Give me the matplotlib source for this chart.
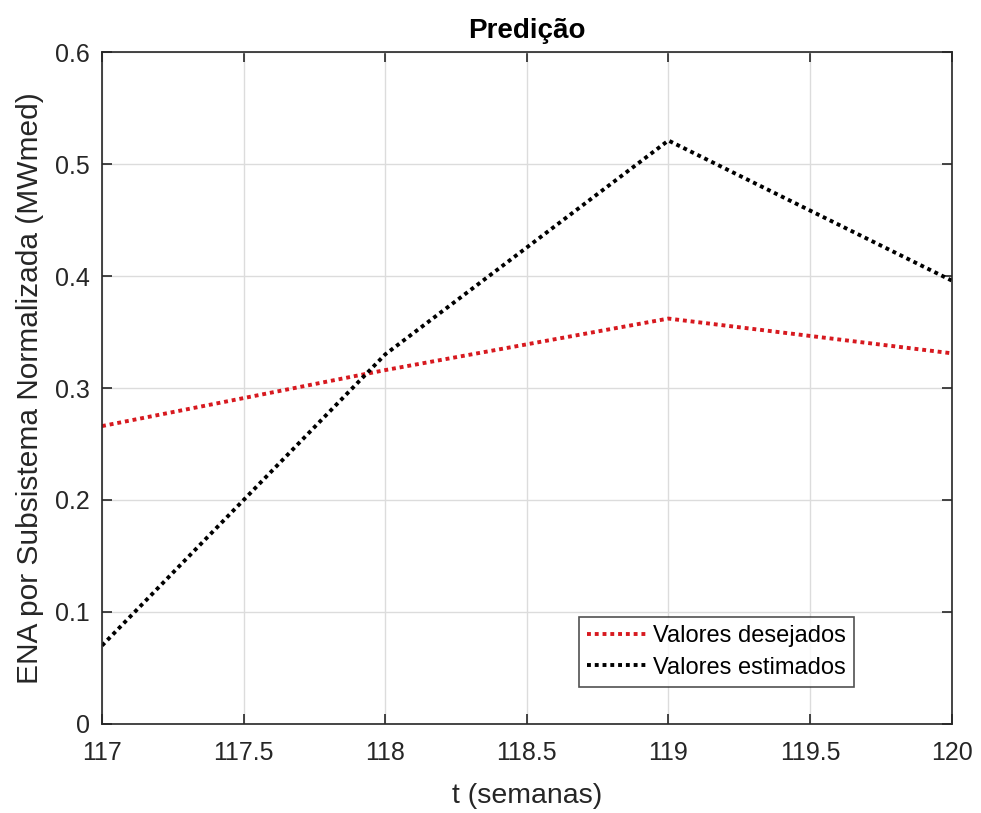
import matplotlib.pyplot as plt

plt.rcParams['font.family'] = ['Liberation Sans', 'DejaVu Sans']

semanas = [117, 118, 119, 120]
desejados = [0.266, 0.316, 0.362, 0.331]
estimados = [0.070, 0.330, 0.521, 0.396]

fig = plt.figure(figsize=(9.81, 8.13), dpi=100)
ax = fig.add_axes([0.104, 0.1095, 0.866, 0.8265])

pontilhado = (0, (1, 1.0))
ax.plot(semanas, desejados, linestyle=pontilhado, color='#d7191f', lw=2.8,
        label='Valores desejados')
ax.plot(semanas, estimados, linestyle=pontilhado, color='black', lw=2.8,
        label='Valores estimados')

ax.set_xlim(117, 120)
ax.set_ylim(0, 0.6)
ax.set_xticks([117, 117.5, 118, 118.5, 119, 119.5, 120])
ax.set_xticklabels(['117', '117.5', '118', '118.5', '119', '119.5', '120'])
ax.set_yticks([0, 0.1, 0.2, 0.3, 0.4, 0.5, 0.6])
ax.set_yticklabels(['0', '0.1', '0.2', '0.3', '0.4', '0.5', '0.6'])
ax.tick_params(direction='in', top=True, right=True, labelsize=18,
               colors='#262626', length=7, width=1.2)
ax.tick_params(axis='x', pad=12)
ax.tick_params(axis='y', pad=9)
ax.grid(True, color='#dcdcdc', lw=1)
for s in ax.spines.values():
    s.set_color('#262626')
    s.set_linewidth(1.2)

ax.set_title('Predição', fontsize=20, fontweight='bold', pad=10)
ax.set_xlabel('t (semanas)', fontsize=20.5, color='#262626', labelpad=13)
ax.set_ylabel('ENA por Subsistema Normalizada (MWmed)', fontsize=21.5,
              color='#262626', labelpad=8)

leg = ax.legend(loc='lower left', bbox_to_anchor=(0.561, 0.055), borderaxespad=0,
                fontsize=17, frameon=True, fancybox=False, handlelength=2.5,
                handletextpad=0.3, borderpad=0.35, labelspacing=0.42)
leg.get_frame().set_edgecolor('#262626')
leg.get_frame().set_linewidth(1.2)

fig.savefig('out.png', dpi=100)
